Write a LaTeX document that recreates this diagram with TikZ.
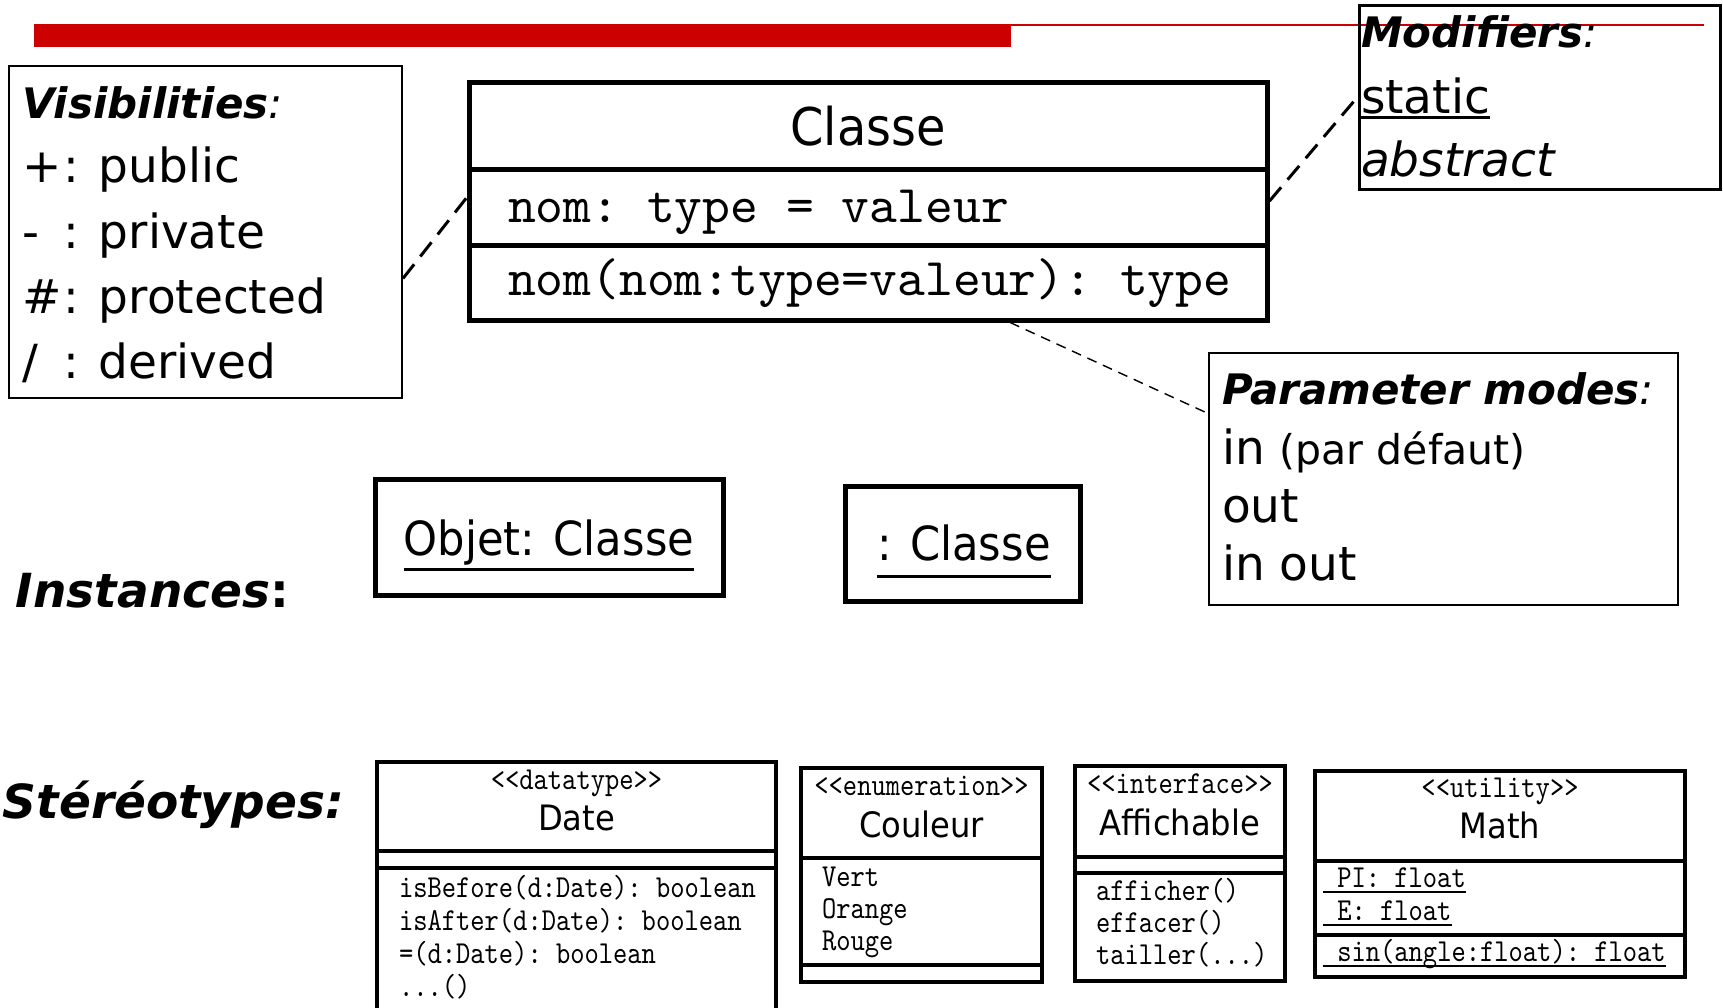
\documentclass[tikz,border=0pt]{standalone}
\usepackage{fontspec}
\setmainfont{DejaVu Sans}
\newfontfamily\umlname[FakeStretch=0.92]{DejaVu Sans}
\newfontfamily\umlmono{lmmono10-regular.otf}
\newfontfamily\umlmonoS[FakeStretch=0.85]{lmmono10-regular.otf}
\usetikzlibrary{fit,calc}
\definecolor{barred}{RGB}{204,0,0}
\newcommand\fsz[1]{\fontsize{#1}{#1}\selectfont}
\begin{document}
\begin{tikzpicture}[x=0.5pt,y=-0.5pt,
  txt/.style={inner sep=0pt, outer sep=0pt, anchor=base west},
  ctxt/.style={inner sep=0pt, outer sep=0pt, anchor=base},
  notebox/.style={draw, inner sep=0pt},
  umlbox/.style={draw, line width=2.5pt, inner sep=0pt},
  smallbox/.style={draw, line width=2pt, inner sep=0pt},
  divider/.style={line width=2.5pt},
  sdivider/.style={line width=2pt},
  link/.style={line width=1.5pt, dash pattern=on 9pt off 5pt},
  thinlink/.style={line width=0.7pt, dash pattern=on 5pt off 3.5pt},
  ulthick/.style={line width=1.5pt},
  ulthin/.style={line width=1pt},
  headfont/.style={font=\fsz{21pt}},
  bodyfont/.style={font=\fsz{23.5pt}},
  bignamefont/.style={font=\umlname\fsz{26pt}},
  instfont/.style={font=\umlname\fsz{23.5pt}},
  namefont/.style={font=\umlname\fsz{17.5pt}},
  bigmono/.style={font=\umlmono\fsz{26.5pt}},
  smallmono/.style={font=\umlmonoS\fsz{16pt}},
]
\useasboundingbox (0,0) rectangle (1723,1007);
\fill[white] (0,0) rectangle (1723,1007);

% title bar
\fill[barred] (34,24) rectangle (1011,47);
\draw[barred, line width=1pt] (1011,24.5) -- (1704,24.5);

% Visibilities note
\node[notebox, line width=1pt, fit={(9,66) (402,398)}] (vis) {};
\node[txt, headfont] (vish) at (22,118) {{\bfseries\itshape Visibilities}{\itshape :}};
\node[txt, bodyfont] (vis1) at (22,182) {\makebox[21pt][l]{+}:\hspace{9.5pt}public};
\node[txt, bodyfont] (vis2) at (22,248) {\makebox[21pt][l]{-}:\hspace{9.5pt}private};
\node[txt, bodyfont] (vis3) at (22,313) {\makebox[21pt][l]{\#}:\hspace{9.5pt}protected};
\node[txt, bodyfont] (vis4) at (22,378) {\makebox[21pt][l]{/}:\hspace{9.5pt}derived};

% Classe
\node[umlbox, fit={(469,82) (1267,320)}] (cls) {};
\draw[divider] (469,169) -- (1267,169);
\draw[divider] (469,245) -- (1267,245);
\node[ctxt, bignamefont] (clsname) at (868,145) {Classe};
\node[txt, bigmono] (clsattr) at (508,222) {nom:\ type\ =\ valeur};
\node[txt, bigmono] (clsop) at (508,295) {nom(nom:type=valeur):\ type};

% Modifiers note
\node[notebox, line width=1.5pt, fit={(1359,5) (1720,189)}] (mod) {};
\node[txt, headfont] (modh) at (1361,47) {{\bfseries\itshape Modifiers}{\itshape :}};
\node[txt, bodyfont] (modst) at (1361,113) {static};
\draw[ulthick] ([yshift=-2pt]modst.base west) -- ([yshift=-2pt]modst.base east);
\node[txt, font=\fsz{23.5pt}\itshape] (modab) at (1361,176) {abstract};

% Parameter modes note
\node[notebox, line width=1.2pt, fit={(1209,353) (1678,605)}] (par) {};
\node[txt, headfont] (parh) at (1222,404) {{\bfseries\itshape Parameter modes}{\itshape :}};
\node[txt, bodyfont] (par1) at (1222,464) {in {\fsz{20.5pt}(par défaut)}};
\node[txt, bodyfont] (par2) at (1222,522) {out};
\node[txt, bodyfont] (par3) at (1222,580) {in out};

% connectors
\draw[link] ($(vis.north east)!0.639!(vis.south east)$) -- ($(cls.north west)!0.487!(cls.south west)$);
\draw[link] (cls.east) -- (mod.west);
\draw[thinlink] ($(cls.south west)!0.677!(cls.south east)$) -- ($(par.north west)!0.242!(par.south west)$);

% Instances
\node[txt, font=\fsz{23.5pt}\bfseries] (inst) at (16,607) {{\itshape Instances}:};
\node[umlbox, fit={(375,479) (723,595)}] (obj) {};
\node[ctxt, instfont] (objt) at (549,555) {Objet: Classe};
\draw[ulthick] ([yshift=-7pt]objt.base west) -- ([yshift=-7pt]objt.base east);
\node[umlbox, fit={(845,486) (1080,601)}] (anon) {};
\node[ctxt, instfont] (anont) at (964,560) {: Classe};
\draw[ulthick] ([yshift=-8pt]anont.base west) -- ([yshift=-8pt]anont.base east);

% Stereotypes
\node[txt, font=\fsz{23.5pt}\bfseries\itshape] (ster) at (3,818) {Stéréotypes:};

% Date
\node[smallbox, fit={(377,762) (776,1040)}] (date) {};
\draw[sdivider] (377,851) -- (776,851);
\draw[sdivider] (377,868) -- (776,868);
\node[ctxt, smallmono] (dates) at (576.5,789) {<\kern0pt<datatype>\kern0pt>};
\node[ctxt, namefont] (daten) at (576.5,830) {Date};
\node[txt, smallmono] (date1) at (399,897) {isBefore(d:Date):\ boolean};
\node[txt, smallmono] (date2) at (399,930) {isAfter(d:Date):\ boolean};
\node[txt, smallmono] (date3) at (399,963) {=(d:Date):\ boolean};
\node[txt, smallmono] (date4) at (399,996) {...()};

% Couleur
\node[smallbox, fit={(801,768) (1042,982)}] (coul) {};
\draw[sdivider] (801,858) -- (1042,858);
\draw[sdivider] (801,965) -- (1042,965);
\node[ctxt, smallmono] (couls) at (921.5,795) {<\kern0pt<enumeration>\kern0pt>};
\node[ctxt, namefont] (couln) at (921.5,837) {Couleur};
\node[txt, smallmono] (coul1) at (822,886) {Vert};
\node[txt, smallmono] (coul2) at (822,918) {Orange};
\node[txt, smallmono] (coul3) at (822,950) {Rouge};

% Affichable
\node[smallbox, fit={(1075,766) (1285,981)}] (aff) {};
\draw[sdivider] (1075,857) -- (1285,857);
\draw[sdivider] (1075,873) -- (1285,873);
\node[ctxt, smallmono] (affs) at (1180,793) {<\kern0pt<interface>\kern0pt>};
\node[ctxt, namefont] (affn) at (1180,835) {Affichable};
\node[txt, smallmono] (aff1) at (1096,900) {afficher()};
\node[txt, smallmono] (aff2) at (1096,932) {effacer()};
\node[txt, smallmono] (aff3) at (1096,964) {tailler(...)};

% Math
\node[smallbox, fit={(1315,771) (1685,977)}] (math) {};
\draw[sdivider] (1315,861) -- (1685,861);
\draw[sdivider] (1315,935) -- (1685,935);
\node[ctxt, smallmono] (maths) at (1500,797) {<\kern0pt<utility>\kern0pt>};
\node[ctxt, namefont] (mathn) at (1500,838) {Math};
\node[txt, smallmono] (math1) at (1323,887) {\ PI:\ float};
\draw[ulthin] ([yshift=-2.5pt]math1.base west) -- ([yshift=-2.5pt]math1.base east);
\node[txt, smallmono] (math2) at (1323,920) {\ E:\ float};
\draw[ulthin] ([yshift=-2.5pt]math2.base west) -- ([yshift=-2.5pt]math2.base east);
\node[txt, smallmono] (math3) at (1323,961) {\ sin(angle:float):\ float};
\draw[ulthin] ([yshift=-2.5pt]math3.base west) -- ([yshift=-2.5pt]math3.base east);
\end{tikzpicture}
\end{document}
